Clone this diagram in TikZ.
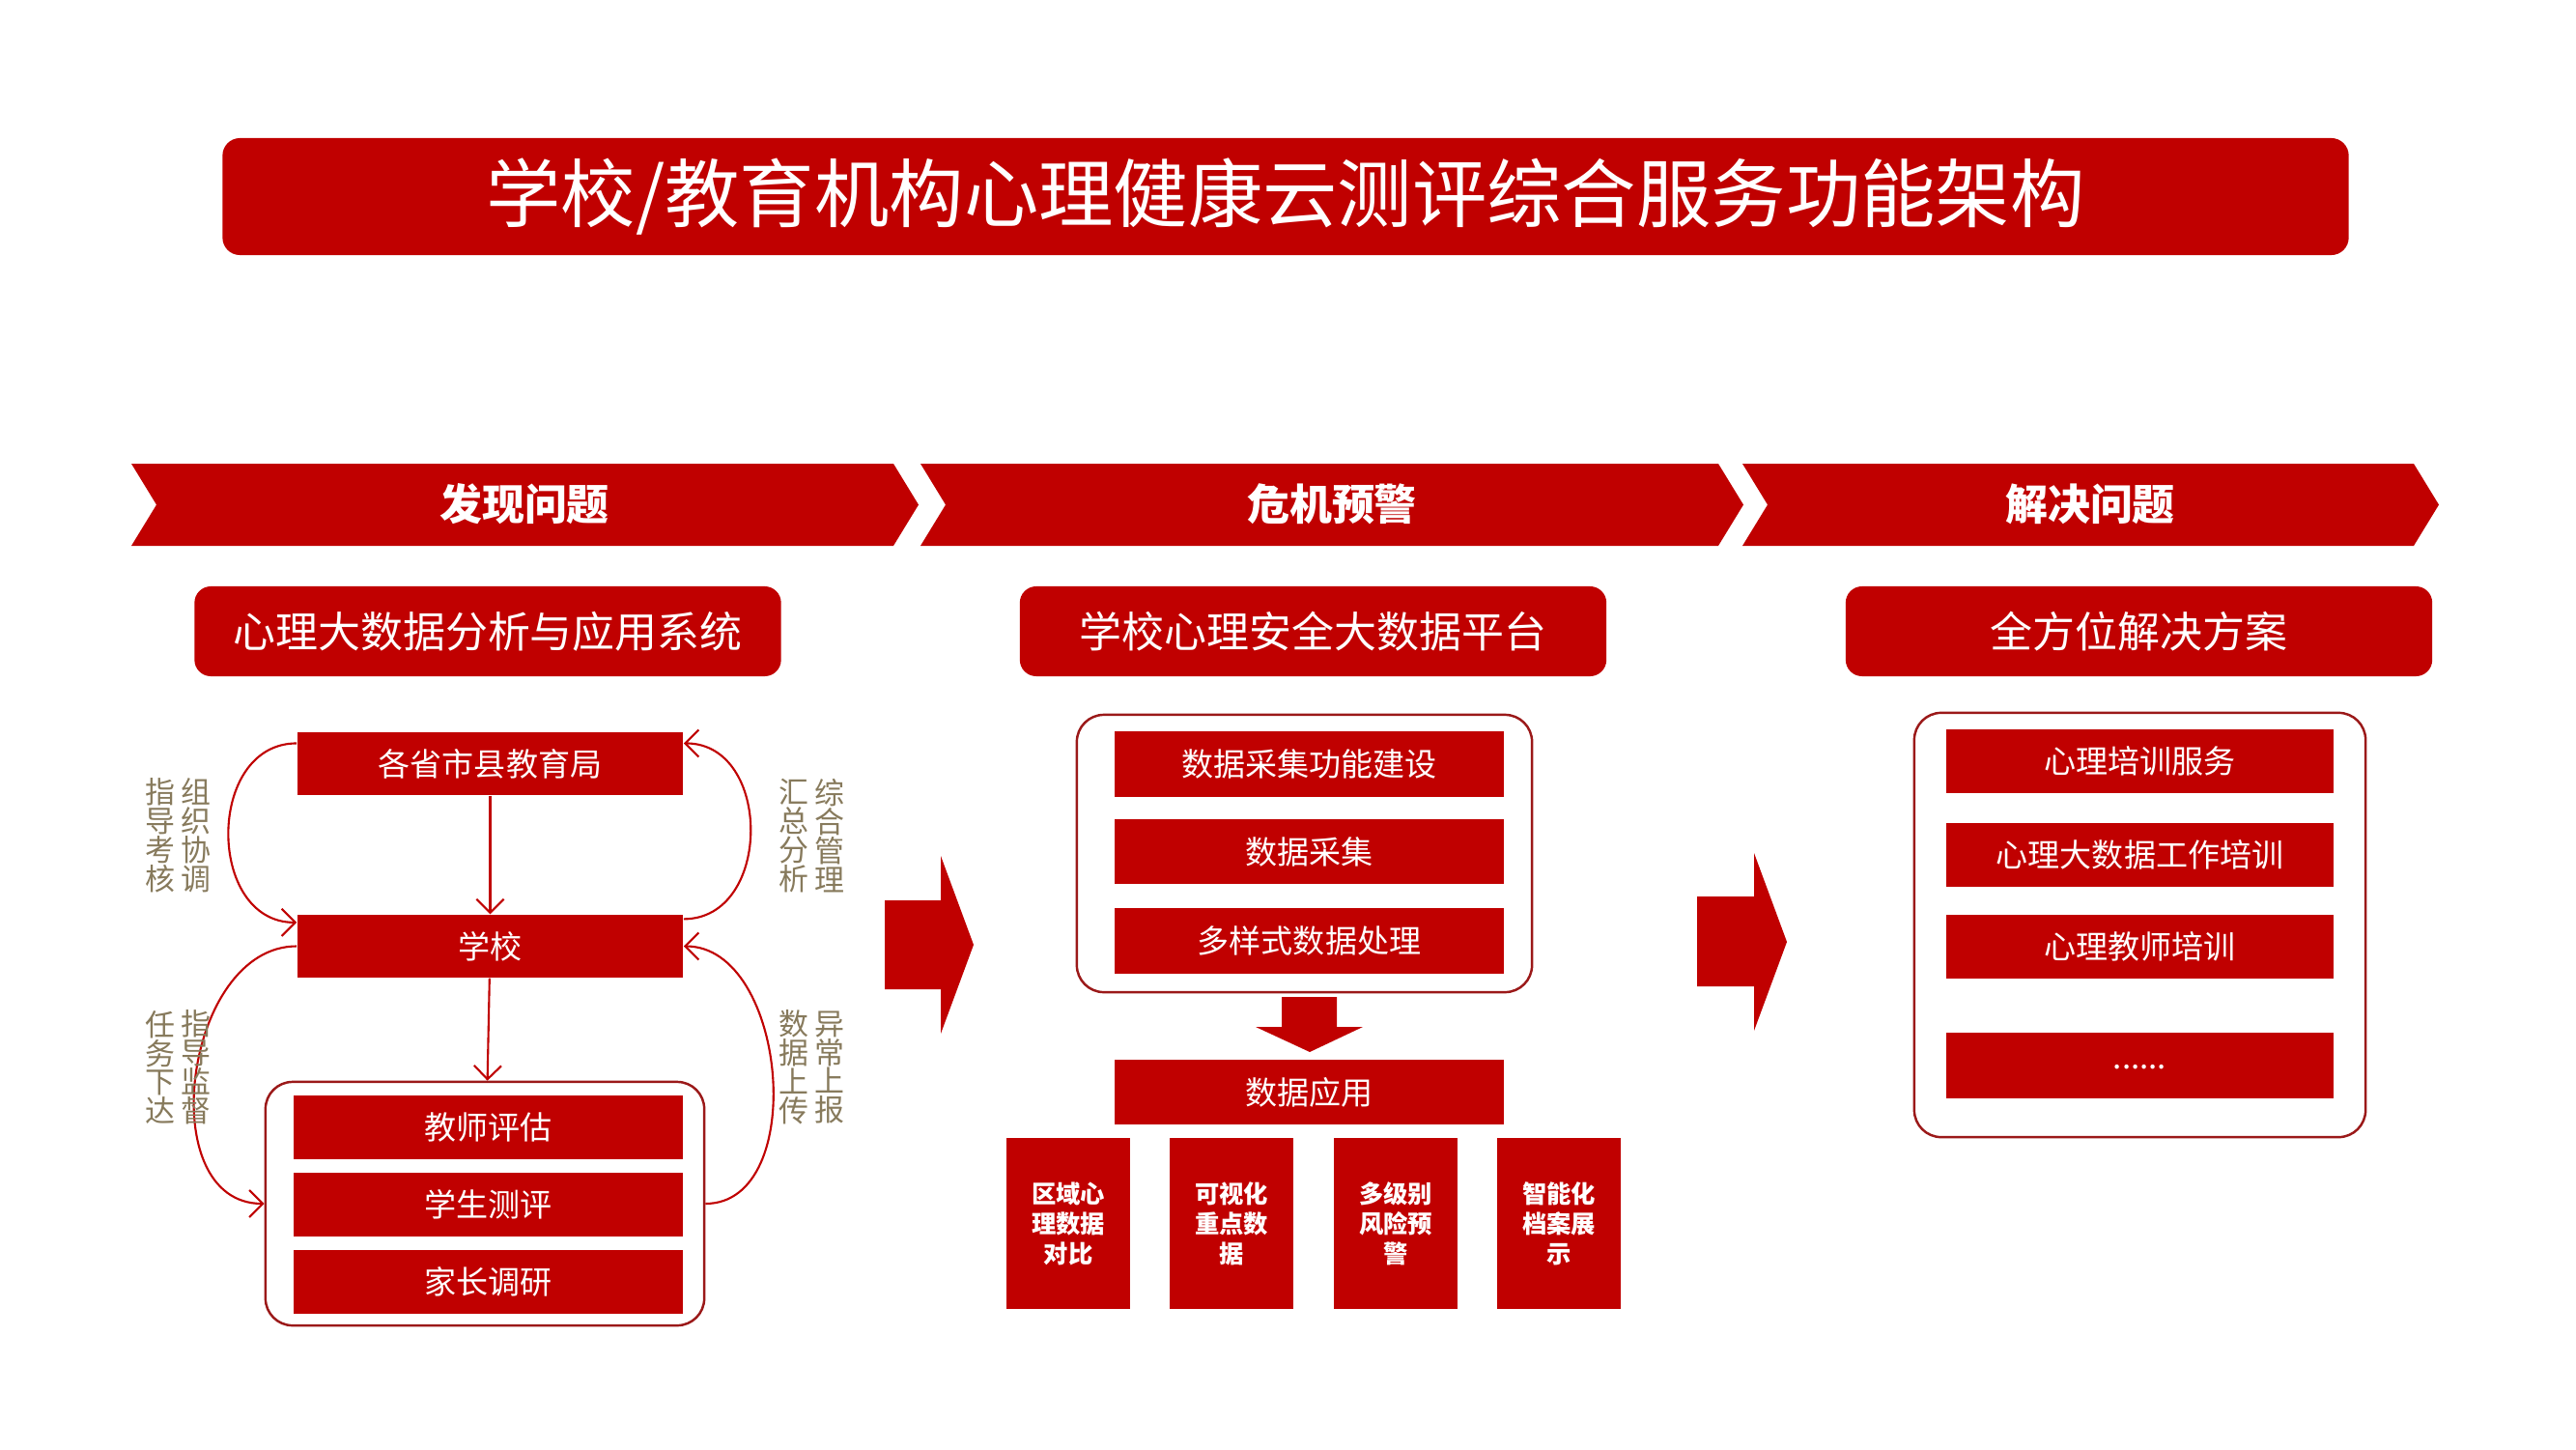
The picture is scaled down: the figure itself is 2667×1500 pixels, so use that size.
\documentclass[tikz,border=0pt]{standalone}
\usepackage{fontspec}
\usepackage{xcolor}
\usetikzlibrary{calc,arrows.meta}
\newfontfamily\cjk{Noto Sans CJK SC}
\definecolor{darkred}{RGB}{192,0,0}
\definecolor{framered}{RGB}{155,25,25}
\definecolor{notegray}{RGB}{135,122,92}

\begin{document}
\begin{tikzpicture}[x=0.01cm, y=-0.01cm,
    box/.style={fill=darkred, text=white, inner sep=0pt, font=\cjk\fontsize{9.4}{11}\selectfont,
        minimum width=4.02cm, minimum height=0.66cm},
    head/.style={fill=darkred, text=white, rounded corners=0.17cm, inner sep=0pt,
        font=\cjk\fontsize{12.5}{15}\selectfont, minimum width=6.07cm, minimum height=0.93cm},
    frame/.style={draw=framered, line width=0.7pt, rounded corners=0.28cm, inner sep=0pt},
    tall/.style={fill=darkred, text=white, inner sep=0pt, align=center,
        font=\cjk\bfseries\fontsize{7.2}{8.8}\selectfont, minimum width=1.28cm, minimum height=1.77cm},
    note/.style={text=notegray, align=center, inner sep=0pt, font=\cjk\fontsize{8.8}{8.5}\selectfont},
    flow/.style={draw=darkred, line width=0.6pt, -{Straight Barb[length=4pt,width=8pt]}},
    chevtext/.style={text=white, font=\cjk\bfseries\fontsize{12.5}{15}\selectfont}
]
        \fill[white] (0,0) rectangle (2667,1500);
        \useasboundingbox (0,0) rectangle (2667,1500);

        % Title
        \node[fill=darkred, rounded corners=0.18cm, minimum width=22cm, minimum height=1.21cm,
            text=white, font=\cjk\fontsize{22}{26}\selectfont] (title) at (1331,203.5)
            {学校/教育机构心理健康云测评综合服务功能架构};

        % Stage chevrons
        \fill[darkred] (136,480) -- (925,480) -- (951,522.5) -- (925,565) -- (136,565) -- (162,522.5) -- cycle;
        \fill[darkred] (953,480) -- (1779,480) -- (1805,522.5) -- (1779,565) -- (953,565) -- (979,522.5) -- cycle;
        \fill[darkred] (1804,480) -- (2499,480) -- (2525,522.5) -- (2499,565) -- (1804,565) -- (1830,522.5) -- cycle;
        \node[chevtext] (find) at (543,522) {发现问题};
        \node[chevtext] (warn) at (1379,522) {危机预警};
        \node[chevtext] (solve) at (2164,522) {解决问题};

        % Sub headers
        \node[head] (sys) at (505,653.5) {心理大数据分析与应用系统};
        \node[head] (plat) at (1359.5,653.5) {学校心理安全大数据平台};
        \node[head] (plan) at (2214.5,653.5) {全方位解决方案};

        % Left column
        \node[box, minimum width=3.99cm, minimum height=0.65cm] (edu) at (507.5,790.5) {各省市县教育局};
        \node[box, minimum width=3.99cm, minimum height=0.65cm] (school) at (507.5,979.5) {学校};
        \node[frame, minimum width=4.54cm, minimum height=2.52cm] (grp) at (502,1246) {};
        \node[box] (teacher) at (505.5,1167) {教师评估};
        \node[box] (student) at (505.5,1247) {学生测评};
        \node[box] (parent) at (505.5,1327) {家长调研};

        \draw[flow] (edu) -- (school);
        \draw[flow] (school) -- (grp);
        \draw[flow] (edu.174) to[out=180, in=180, looseness=1.3] (school.173);
        \draw[flow] (school.8) to[out=0, in=0, looseness=1.3] (edu.6);
        \draw[flow] (school.west) to[out=180, in=180, looseness=1.11] (grp.west);
        \draw[flow] (grp.east) to[out=0, in=0, looseness=1.03] (school.east);

        \node[note] (n1) at (166,865) {指\\导\\考\\核};
        \node[note] (n2) at (203,865) {组\\织\\协\\调};
        \node[note] (n3) at (822,865) {汇\\总\\分\\析};
        \node[note] (n4) at (859,865) {综\\合\\管\\理};
        \node[note] (n5) at (166,1105) {任\\务\\下\\达};
        \node[note] (n6) at (203,1105) {指\\导\\监\\督};
        \node[note] (n7) at (822,1105) {数\\据\\上\\传};
        \node[note] (n8) at (859,1105) {异\\常\\上\\报};

        % Arrow into middle column
        \fill[darkred] (916,932) -- (974,932) -- (974,886) -- (1008,978) -- (974,1070) -- (974,1024) -- (916,1024) -- cycle;

        % Middle column
        \node[frame, minimum width=4.71cm, minimum height=2.87cm] (pool) at (1350.5,883.5) {};
        \node[box, minimum height=0.68cm] (build) at (1355.5,791) {数据采集功能建设};
        \node[box, minimum height=0.67cm] (gather) at (1355.5,881.5) {数据采集};
        \node[box, minimum height=0.68cm] (proc) at (1355.5,974) {多样式数据处理};
        \fill[darkred] (1327,1032) -- (1384,1032) -- (1384,1063) -- (1411,1063) -- (1356,1089)
            -- (1300,1063) -- (1327,1063) -- cycle;
        \node[box, minimum height=0.67cm] (use) at (1355.5,1130.5) {数据应用};

        \node[tall] (area) at (1106,1266.5) {区域心\\理数据\\对比};
        \node[tall] (visual) at (1275,1266.5) {可视化\\重点数\\据};
        \node[tall] (risk) at (1445,1266.5) {多级别\\风险预\\警};
        \node[tall] (file) at (1614,1266.5) {智能化\\档案展\\示};

        % Arrow into right column
        \fill[darkred] (1757,928) -- (1816,928) -- (1816,883) -- (1850,975) -- (1816,1067) -- (1816,1021) -- (1757,1021) -- cycle;

        % Right column
        \node[frame, minimum width=4.67cm, minimum height=4.39cm] (offer) at (2215.5,957.5) {};
        \node[box, minimum width=4.01cm] (train) at (2215.5,788) {心理培训服务};
        \node[box, minimum width=4.01cm] (bigdata) at (2215.5,885) {心理大数据工作培训};
        \node[box, minimum width=4.01cm] (tutor) at (2215.5,980) {心理教师培训};
        \node[box, minimum width=4.01cm, minimum height=0.68cm] (more) at (2215.5,1103) {\raisebox{-0.25em}{......}};
\end{tikzpicture}
\end{document}
